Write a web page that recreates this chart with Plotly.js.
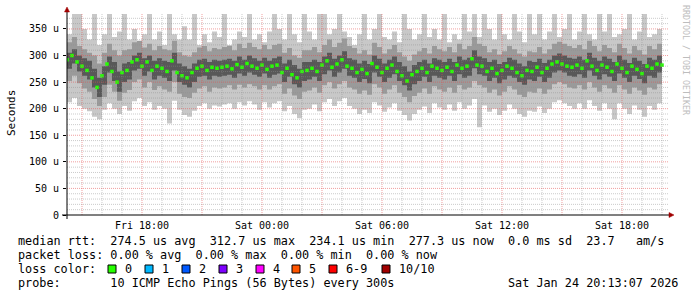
<!DOCTYPE html>
<html><head><meta charset="utf-8">
<script src="https://cdn.plot.ly/plotly-3.0.1.min.js"></script>
<style>html,body{margin:0;padding:0;background:#fff}#chart{width:697px;height:297px}</style>
</head><body><div id="chart"></div>
<script>
// ---- data (microseconds), one sample per 15 minutes from Fri Jan 23 14:15 ----
const startUTC = Date.UTC(2026, 0, 23, 14, 15);
const stepMinutes = 15;

const medianRtt = [
 292,300,288,280,272,258,240,262,284,270,
 250,268,272,288,292,280,288,272,280,276,
 270,290,268,262,258,268,276,280,272,278,
 276,278,280,275,283,278,285,280,276,282,
 274,280,282,268,276,264,258,270,272,276,
 270,282,290,278,284,292,280,276,268,274,
 266,285,278,268,276,282,270,262,252,264,
 270,276,268,280,276,272,278,270,282,276,
 280,294,282,280,270,276,266,272,280,276,
 268,262,272,270,278,268,276,284,288,284,
 280,278,282,276,290,280,272,282,278,270,
 284,276,268,280,274,266,280,276,284,282];

const pingMax = [
 340,378,378,350,330,378,320,340,378,335,
 345,378,330,350,325,340,378,330,345,320,
 378,340,330,355,330,378,320,340,325,345,
 335,378,320,330,345,335,378,330,340,325,
 345,378,350,330,378,340,325,378,345,330,
 378,378,340,350,378,345,335,320,340,378,
 330,350,378,335,330,345,325,378,350,330,
 340,378,335,350,330,378,325,340,330,378,
 345,378,335,378,350,330,378,340,330,378,
 345,325,378,340,378,330,345,378,335,350,
 378,330,345,378,340,330,378,345,378,335,
 340,350,378,330,345,378,335,340,350,330];

const pingHigh = [
 325,335,318,312,305,300,285,305,322,310,
 300,310,312,325,328,315,322,310,318,312,
 310,328,306,300,298,306,315,318,308,314,
 312,316,318,310,322,314,324,316,312,320,
 312,320,322,305,314,300,296,310,310,316,
 306,320,330,316,324,332,318,314,304,310,
 302,324,316,304,312,320,306,298,290,302,
 308,314,304,318,312,308,316,306,322,312,
 318,335,322,318,306,312,302,308,318,312,
 304,298,308,306,316,304,312,322,326,322,
 318,314,320,312,328,318,308,320,314,306,
 322,314,304,318,310,302,318,312,322,320];

const pingUpperCore = [
 305,312,300,295,290,275,258,280,298,288,
 270,285,288,300,305,295,300,290,295,290,
 288,305,285,280,275,285,292,294,288,292,
 290,292,294,290,298,292,300,295,290,296,
 290,295,298,285,292,282,275,288,288,292,
 288,298,305,294,300,308,295,292,285,290,
 284,300,294,285,292,298,288,280,270,282,
 288,292,285,295,292,288,294,288,298,292,
 296,310,298,295,288,292,284,288,296,292,
 285,280,290,288,294,286,292,300,304,300,
 296,294,298,292,305,296,290,298,294,288,
 300,292,286,296,290,284,296,292,300,298];

const pingLowerCore = [
 275,285,270,262,255,240,222,245,268,252,
 232,250,255,272,275,262,270,255,262,258,
 252,272,250,245,240,250,260,262,255,262,
 260,262,264,258,266,262,268,264,260,266,
 258,264,266,250,260,246,240,252,255,260,
 252,265,272,260,268,275,262,258,250,256,
 248,268,260,250,258,265,252,244,234,246,
 252,260,250,262,258,255,262,252,265,258,
 262,276,265,262,252,258,248,255,262,258,
 250,245,255,252,260,250,258,268,272,268,
 262,260,265,258,272,262,255,265,260,252,
 266,258,250,262,256,248,262,258,268,265];

const pingLow = [
 252,262,248,238,232,218,205,222,245,232,
 215,230,235,250,255,240,250,235,242,236,
 232,250,228,222,220,230,238,242,232,240,
 238,240,244,236,245,240,246,242,236,244,
 236,242,246,228,238,225,218,232,234,240,
 230,244,250,238,246,252,240,236,228,234,
 226,246,240,228,236,244,230,222,212,224,
 230,238,228,242,236,232,240,230,244,236,
 240,252,244,240,230,236,225,232,242,236,
 226,222,232,230,238,228,236,246,250,246,
 240,238,244,236,250,240,232,244,238,230,
 244,236,228,240,234,226,240,236,246,242];

const pingMin = [
 212,220,205,200,195,185,180,198,210,200,
 190,205,196,214,220,205,212,198,205,200,
 172,215,198,188,185,196,205,210,200,206,
 204,208,210,200,212,206,214,208,198,212,
 202,210,214,195,205,190,182,198,200,208,
 195,212,218,205,214,220,205,200,190,198,
 192,212,206,194,202,210,196,188,178,190,
 198,204,192,210,202,198,208,196,212,200,
 206,218,165,206,194,200,188,196,208,200,
 190,185,196,194,204,192,200,212,216,210,
 205,200,210,200,216,205,196,210,200,180,
 210,200,190,206,198,185,205,198,210,192];

const xTickVals = ['2026-01-23 15:00','2026-01-23 18:00','2026-01-23 21:00','2026-01-24 00:00',
  '2026-01-24 03:00','2026-01-24 06:00','2026-01-24 09:00','2026-01-24 12:00','2026-01-24 15:00','2026-01-24 18:00'];
const xTickText = ['','Fri 18:00','','Sat 00:00','','Sat 06:00','','Sat 12:00','','Sat 18:00'];
const yTickVals = [0,50,100,150,200,250,300,350];
const yTickText = ['0','50 u','100 u','150 u','200 u','250 u','300 u','350 u'];

const lossLabels = ['0','1','2','3','4','5','6-9','10/10'];
const lossColors = ['#26ff00','#00b8ff','#0059ff','#7e00ff','#ff00ff','#ff5500','#ff0000','#a10000'];

const legendLines = [
 'median rtt:  274.5 us avg  312.7 us max  234.1 us min  277.3 us now  0.0 ms sd  23.7   am/s',
 'packet loss: 0.00 % avg  0.00 % max  0.00 % min  0.00 % now',
 'loss color:',
 'probe:       10 ICMP Echo Pings (56 Bytes) every 300s'];
const stampText = 'Sat Jan 24 20:13:07 2026';

// ---- build ----
function fmt(ms){ return new Date(ms).toISOString().slice(0,19).replace('T',' '); }
const times = medianRtt.map((_, i) => fmt(startUTC + i * stepMinutes * 60000));

const L = 67, R = 668, T = 13, B = 215;
const W = R - L, H = B - T;
const px = x => (x - L) / W;
const py = y => (B - y) / H;
const MONO = 'DejaVu Sans Mono';

function band(lo, hi, color){
  return [
    {x: times, y: lo, type:'scatter', mode:'lines', line:{width:0, shape:'hv'}, hoverinfo:'skip'},
    {x: times, y: hi, type:'scatter', mode:'lines', line:{width:0, shape:'hv'}, fill:'tonexty', fillcolor: color, hoverinfo:'skip'}
  ];
}
const traces = [].concat(
  band(pingMin, pingMax, '#c8c8c8'),
  band(pingLow, pingHigh, '#9a9a9a'),
  band(pingLowerCore, pingUpperCore, '#585858'),
  [{x: times, y: medianRtt, type:'scatter', mode:'markers',
    marker:{symbol:'square', size:3.5, color:'#26ff00', line:{width:0}}, hoverinfo:'skip'}]
);

const shapes = [];
// grid (drawn above the smoke like rrdtool)
const gridStart = Date.UTC(2026,0,23,15,0);
for (let k = 0; k <= 29; k++){
  const ms = gridStart + k * 3600000;
  const major = (new Date(ms).getUTCHours() % 3) === 0;
  shapes.push({type:'line', xref:'x', yref:'paper', x0: fmt(ms), x1: fmt(ms), y0:0, y1:1, layer:'above',
    line:{color: major ? 'rgba(230,80,80,0.55)' : 'rgba(140,140,140,0.45)', width:1, dash:'1px,1px'}});
}
for (let v = 10; v <= 370; v += 10){
  const major = v % 50 === 0;
  shapes.push({type:'line', xref:'paper', yref:'y', x0:0, x1:1, y0:v, y1:v, layer:'above',
    line:{color: major ? 'rgba(230,80,80,0.55)' : 'rgba(140,140,140,0.45)', width:1, dash:'1px,1px'}});
}
// axes with arrows
shapes.push({type:'line', xref:'paper', yref:'paper', x0:px(62), x1:px(670), y0:0, y1:0, layer:'above', line:{color:'#000', width:1}});
shapes.push({type:'line', xref:'paper', yref:'paper', x0:0, x1:0, y0:py(219), y1:py(11), layer:'above', line:{color:'#000', width:1}});
shapes.push({type:'path', xref:'paper', yref:'paper', layer:'above',
  path:`M${px(669)},${py(212.5)} L${px(674)},${py(215)} L${px(669)},${py(217.5)} Z`, fillcolor:'#a00000', line:{color:'#a00000', width:0.5}});
shapes.push({type:'path', xref:'paper', yref:'paper', layer:'above',
  path:`M${px(64.5)},${py(12)} L${px(67)},${py(7)} L${px(69.5)},${py(12)} Z`, fillcolor:'#a00000', line:{color:'#a00000', width:0.5}});
// loss colour boxes
const boxX = [108,145,182,219,256,292,329,382];
boxX.forEach((bx, i) => {
  shapes.push({type:'rect', xref:'paper', yref:'paper', x0:px(bx), x1:px(bx+8), y0:py(273), y1:py(265),
    fillcolor: lossColors[i], line:{color:'#000', width:1}});
});

const nb = s => s.replace(/ /g, '\u00a0');
const ann = [];
const rowY = [241, 255, 269, 283];
legendLines.forEach((t, i) => {
  ann.push({xref:'paper', yref:'paper', x:px(16), y:py(rowY[i]), xanchor:'left', yanchor:'middle',
    text: nb(t), showarrow:false, font:{family:MONO, size:11.8, color:'#000'}});
});
lossLabels.forEach((t, i) => {
  ann.push({xref:'paper', yref:'paper', x:px(boxX[i] + 15), y:py(rowY[2]), xanchor:'left', yanchor:'middle',
    text: t, showarrow:false, font:{family:MONO, size:11.8, color:'#000'}});
});
ann.push({xref:'paper', yref:'paper', x:px(680), y:py(rowY[3]), xanchor:'right', yanchor:'middle',
  text: nb(stampText), showarrow:false, font:{family:MONO, size:11.8, color:'#000'}});
ann.push({xref:'paper', yref:'paper', x:px(11), y:py(113), xanchor:'center', yanchor:'middle', textangle:-90,
  text:'Seconds', showarrow:false, font:{family:MONO, size:11, color:'#000'}});
ann.push({xref:'paper', yref:'paper', x:px(686), y:py(60), xanchor:'center', yanchor:'middle', textangle:90,
  text: nb('RRDTOOL / TOBI OETIKER'), showarrow:false, font:{family:MONO, size:8.3, color:'#bdbdbd'}});

const layout = {
  width:697, height:297,
  margin:{l:L, r:697-R, t:T, b:297-B, pad:0},
  paper_bgcolor:'#fff', plot_bgcolor:'#fff',
  showlegend:false,
  xaxis:{type:'date', range:['2026-01-23 14:15','2026-01-24 20:18'], tickmode:'array',
    tickvals:xTickVals, ticktext:xTickText, showgrid:false, zeroline:false, showline:false,
    ticks:'', ticklabelstandoff:3, tickfont:{family:MONO, size:10, color:'#000'}, fixedrange:true},
  yaxis:{range:[0,380], tickmode:'array', tickvals:yTickVals, ticktext:yTickText,
    showgrid:false, zeroline:false, showline:false, ticks:'outside', ticklen:3, tickcolor:'#000',
    ticklabelstandoff:2, tickfont:{family:MONO, size:10, color:'#000'}, fixedrange:true},
  shapes: shapes,
  annotations: ann
};

Plotly.newPlot('chart', traces, layout, {staticPlot:true, displayModeBar:false});
</script>
</body></html>
